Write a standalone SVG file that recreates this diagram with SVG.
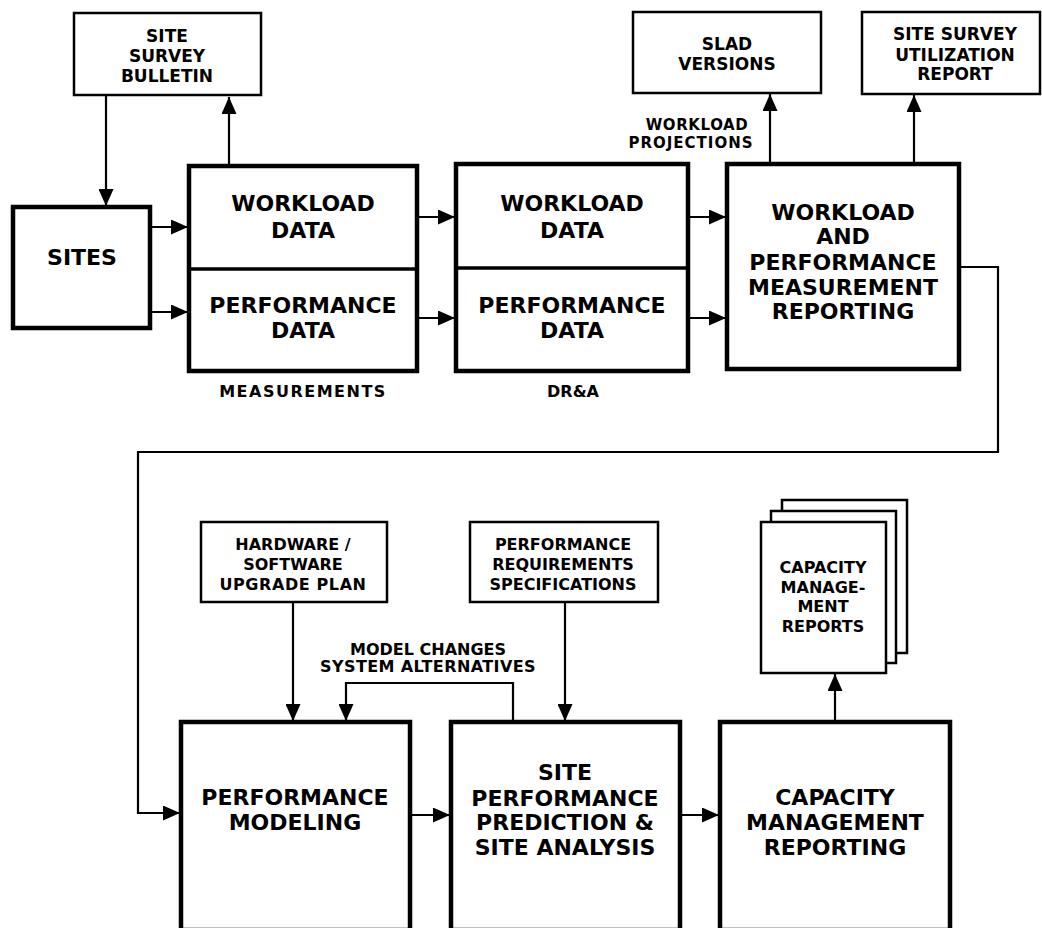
<svg xmlns="http://www.w3.org/2000/svg" width="1042" height="928" viewBox="0 0 1042 928">
<style>
  .thick { fill: #fff; stroke: #000; stroke-width: 4.5; }
  .thin { fill: #fff; stroke: #000; stroke-width: 2.5; }
  .conn { fill: none; stroke: #000; stroke-width: 2.2; marker-end: url(#arrow); }
  text { font-family: "DejaVu Sans", "Liberation Sans", sans-serif; font-weight: bold; fill: #000; text-anchor: middle; }
  .big { font-size: 22px; }
  .small { font-size: 16px; }
  .sm17 { font-size: 17px; }
  .tiny { font-size: 15px; }
</style>
<defs>
  <marker id="arrow" markerUnits="userSpaceOnUse" markerWidth="17" markerHeight="15" refX="17" refY="7.5" orient="auto">
    <path d="M0,0 L17,7.5 L0,15 z" fill="#000"/>
  </marker>
</defs>
<rect width="1042" height="928" fill="#fff"/>

<g id="connectors">
  <path class="conn" d="M106,96 V206"/>
  <path class="conn" d="M229,164 V97"/>
  <path class="conn" d="M152,227 H188"/>
  <path class="conn" d="M152,312 H188"/>
  <path class="conn" d="M419,217 H455"/>
  <path class="conn" d="M419,318 H455"/>
  <path class="conn" d="M690,217 H726"/>
  <path class="conn" d="M690,318 H726"/>
  <path class="conn" d="M770,162 V94"/>
  <path class="conn" d="M914,162 V95"/>
  <path class="conn" d="M961,267 H998 V452 H138 V813 H180"/>
  <path class="conn" d="M293,603 V721"/>
  <path class="conn" d="M565,603 V721"/>
  <path class="conn" d="M513,720 V683 H346 V721"/>
  <path class="conn" d="M412,815 H450"/>
  <path class="conn" d="M682,815 H719"/>
  <path class="conn" d="M835,720 V674"/>
</g>

<g id="site-survey-bulletin">
  <rect class="thin" x="74" y="13" width="187" height="82"/>
  <text class="sm17" x="167" y="42">SITE</text>
  <text class="sm17" x="167" y="62">SURVEY</text>
  <text class="sm17" x="167" y="82">BULLETIN</text>
</g>

<g id="sites">
  <rect class="thick" x="13" y="207" width="137" height="121"/>
  <text class="big" x="82" y="265">SITES</text>
</g>

<g id="measurements">
  <rect class="thick" x="189" y="166" width="228" height="205"/>
  <line x1="189" y1="269" x2="417" y2="269" stroke="#000" stroke-width="3.5"/>
  <text class="big" x="303" y="211">WORKLOAD</text>
  <text class="big" x="303" y="238">DATA</text>
  <text class="big" x="303" y="313">PERFORMANCE</text>
  <text class="big" x="303" y="338">DATA</text>
  <text class="small" x="303" y="397" letter-spacing="1.5">MEASUREMENTS</text>
</g>

<g id="dra">
  <rect class="thick" x="456" y="164" width="232" height="207"/>
  <line x1="456" y1="268" x2="688" y2="268" stroke="#000" stroke-width="3.5"/>
  <text class="big" x="572" y="211">WORKLOAD</text>
  <text class="big" x="572" y="238">DATA</text>
  <text class="big" x="572" y="313">PERFORMANCE</text>
  <text class="big" x="572" y="338">DATA</text>
  <text class="small" x="573" y="397">DR&amp;A</text>
</g>

<g id="wpmr">
  <rect class="thick" x="727" y="164" width="232" height="205"/>
  <text class="big" x="843" y="220">WORKLOAD</text>
  <text class="big" x="843" y="244">AND</text>
  <text class="big" x="843" y="270">PERFORMANCE</text>
  <text class="big" x="843" y="295">MEASUREMENT</text>
  <text class="big" x="843" y="319">REPORTING</text>
</g>

<g id="workload-projections-label">
  <text class="tiny" x="697" y="130" letter-spacing="0.6">WORKLOAD</text>
  <text class="tiny" x="691" y="148" letter-spacing="1">PROJECTIONS</text>
</g>

<g id="slad-versions">
  <rect class="thin" x="633" y="12" width="188" height="81"/>
  <text class="sm17" x="727" y="50">SLAD</text>
  <text class="sm17" x="727" y="70">VERSIONS</text>
</g>

<g id="site-survey-utilization">
  <rect class="thin" x="862" y="12" width="178" height="82"/>
  <text class="sm17" x="955" y="40">SITE SURVEY</text>
  <text class="sm17" x="955" y="61">UTILIZATION</text>
  <text class="sm17" x="955" y="80">REPORT</text>
</g>

<g id="hw-sw-plan">
  <rect class="thin" x="201" y="522" width="186" height="80"/>
  <text class="small" x="293" y="550">HARDWARE /</text>
  <text class="small" x="293" y="570">SOFTWARE</text>
  <text class="small" x="293" y="590" letter-spacing="0.6">UPGRADE PLAN</text>
</g>

<g id="perf-req-spec">
  <rect class="thin" x="470" y="522" width="188" height="80"/>
  <text class="small" x="563" y="550">PERFORMANCE</text>
  <text class="small" x="563" y="570">REQUIREMENTS</text>
  <text class="small" x="563" y="590">SPECIFICATIONS</text>
</g>

<g id="model-changes-label">
  <text class="small" x="428" y="655">MODEL CHANGES</text>
  <text class="small" x="428" y="672" letter-spacing="0.4">SYSTEM ALTERNATIVES</text>
</g>

<g id="performance-modeling">
  <rect class="thick" x="181" y="722" width="229" height="208"/>
  <text class="big" x="295" y="805">PERFORMANCE</text>
  <text class="big" x="295" y="830">MODELING</text>
</g>

<g id="site-performance-prediction">
  <rect class="thick" x="451" y="722" width="229" height="208"/>
  <text class="big" x="565" y="780">SITE</text>
  <text class="big" x="565" y="806">PERFORMANCE</text>
  <text class="big" x="565" y="830">PREDICTION &amp;</text>
  <text class="big" x="565" y="855">SITE ANALYSIS</text>
</g>

<g id="capacity-management-reporting">
  <rect class="thick" x="720" y="722" width="230" height="208"/>
  <text class="big" x="835" y="805">CAPACITY</text>
  <text class="big" x="835" y="830">MANAGEMENT</text>
  <text class="big" x="835" y="855">REPORTING</text>
</g>

<g id="capacity-management-reports">
  <rect class="thin" x="782" y="500" width="125" height="153"/>
  <rect class="thin" x="771" y="511" width="125" height="152"/>
  <rect class="thin" x="761" y="522" width="125" height="151"/>
  <text class="small" x="823" y="573">CAPACITY</text>
  <text class="small" x="823" y="593">MANAGE-</text>
  <text class="small" x="823" y="612">MENT</text>
  <text class="small" x="823" y="632">REPORTS</text>
</g>
</svg>
